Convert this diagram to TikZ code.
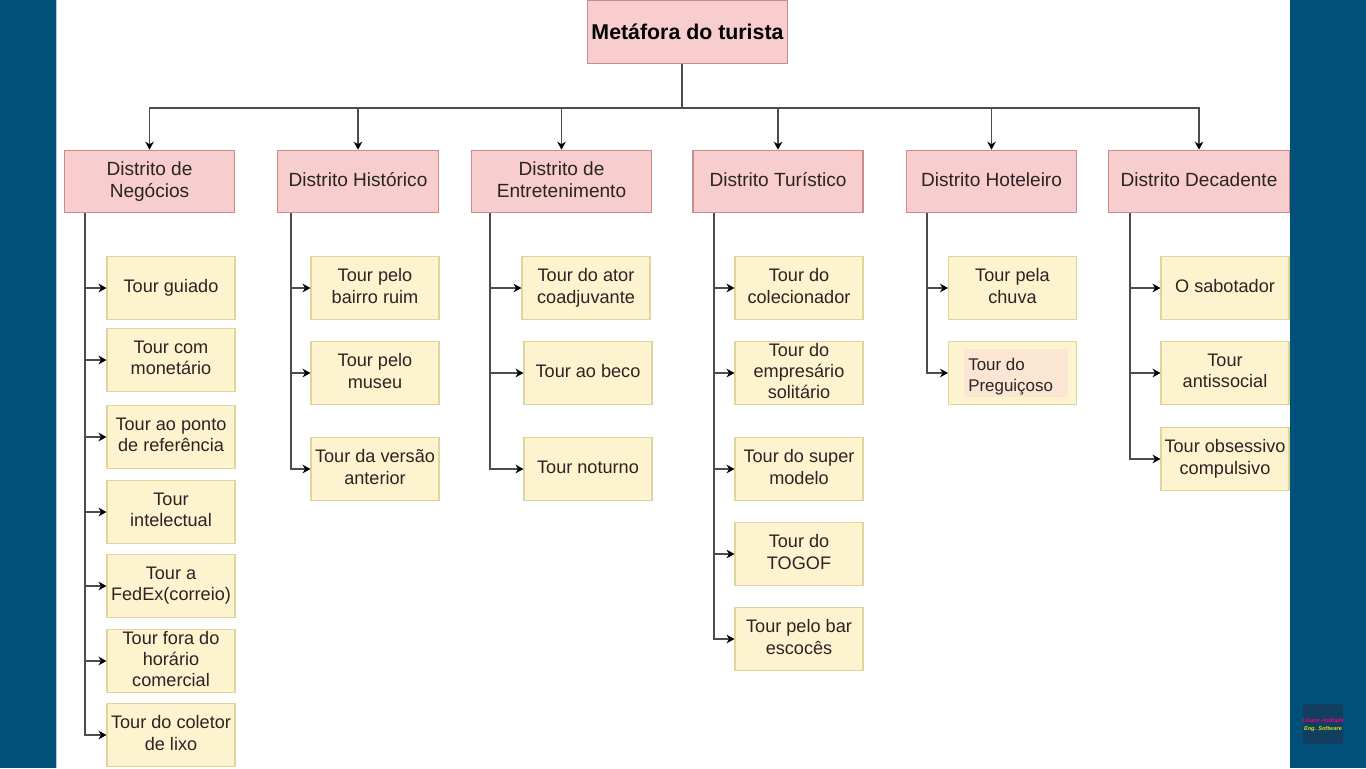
\documentclass[tikz,border=0pt]{standalone}
\usepackage{fontspec}
\setmainfont{Liberation Sans}
\usepackage{tikz}
\usetikzlibrary{arrows.meta}
\definecolor{bandblue}{HTML}{00507A}
\definecolor{rosefill}{HTML}{F7CDCE}
\definecolor{rosedraw}{HTML}{C98B8B}
\definecolor{creamfill}{HTML}{FEF3CF}
\definecolor{creamdraw}{HTML}{DDD59C}
\definecolor{patchfill}{HTML}{FBE5D3}
\definecolor{inktext}{HTML}{2A2422}
\definecolor{logoblue}{HTML}{123F60}
\tikzset{
  titlebox/.style={draw=rosedraw,fill=rosefill,line width=0.8pt,align=center,text=black,
    minimum width=150pt,minimum height=47.5pt,inner sep=1pt,font=\fontsize{16}{19}\selectfont\bfseries},
  distbox/.style={draw=rosedraw,fill=rosefill,line width=0.8pt,align=center,text=inktext,
    minimum height=47pt,inner sep=1pt,text depth=3pt,font=\fontsize{14.3}{17}\selectfont},
  leafbox/.style={draw=creamdraw,fill=creamfill,line width=0.8pt,align=center,text=inktext,
    minimum width=96pt,minimum height=47.5pt,inner sep=1pt,text depth=3pt,font=\fontsize{13.6}{15.9}\selectfont},
  link/.style={draw=black!70,line width=0.8pt}
}
\begin{document}
\begin{tikzpicture}[>={Stealth[length=6pt,width=6.5pt,color=black]}, x=0.75pt, y=-0.75pt]
    \useasboundingbox (0,0) rectangle (1366,768);
    \fill[bandblue] (0,0) rectangle (1366,768);
    \fill[white] (56,0) rectangle (1290,768);
    \draw[blue!25, line width=0.8pt] (56.5,0) -- (56.5,768);

    \node[titlebox] (title) at (687.5,32) {Metáfora do turista};

    \node[distbox, minimum width=128pt] (dist-1) at (149.5,181.5) {Distrito de\\Negócios};
    \node[distbox, minimum width=121pt] (dist-2) at (358,181.5) {Distrito Histórico};
    \node[distbox, minimum width=135.5pt] (dist-3) at (561.5,181.5) {Distrito de\\Entretenimento};
    \node[distbox, minimum width=127.5pt] (dist-4) at (778,181.5) {Distrito Turístico};
    \node[distbox, minimum width=128pt] (dist-5) at (991.5,181.5) {Distrito Hoteleiro};
    \node[distbox, minimum width=135.5pt] (dist-6) at (1199,181.5) {Distrito Decadente};

    \node[leafbox] (leaf-1-1) at (171,288) {Tour guiado};
    \node[leafbox] (leaf-1-2) at (171,360) {Tour com\\monetário};
    \node[leafbox] (leaf-1-3) at (171,437) {Tour ao ponto\\de referência};
    \node[leafbox] (leaf-1-4) at (171,512) {Tour\\intelectual};
    \node[leafbox] (leaf-1-5) at (171,586) {Tour a\\FedEx(correio)};
    \node[leafbox] (leaf-1-6) at (171,661) {Tour fora do\\horário\\comercial};
    \node[leafbox] (leaf-1-7) at (171,735) {Tour do coletor\\de lixo};

    \node[leafbox] (leaf-2-1) at (375,288) {Tour pelo\\bairro ruim};
    \node[leafbox] (leaf-2-2) at (375,373) {Tour pelo\\museu};
    \node[leafbox] (leaf-2-3) at (375,469) {Tour da versão\\anterior};

    \node[leafbox] (leaf-3-1) at (586,288) {Tour do ator\\coadjuvante};
    \node[leafbox] (leaf-3-2) at (588,373) {Tour ao beco};
    \node[leafbox] (leaf-3-3) at (588,469) {Tour noturno};

    \node[leafbox] (leaf-4-1) at (799,288) {Tour do\\colecionador};
    \node[leafbox] (leaf-4-2) at (799,373) {Tour do\\empresário\\solitário};
    \node[leafbox] (leaf-4-3) at (799,469) {Tour do super\\modelo};
    \node[leafbox] (leaf-4-4) at (799,554) {Tour do\\TOGOF};
    \node[leafbox] (leaf-4-5) at (799,639) {Tour pelo bar\\escocês};

    \node[leafbox] (leaf-5-1) at (1012.5,288) {Tour pela\\chuva};
    \node[leafbox] (leaf-5-2) at (1012.5,373) {};
    \node[fill=patchfill, inner sep=0pt, minimum width=78pt, minimum height=36pt] (patch) at (1015.5,373) {};
    \node[anchor=west, text=inktext, align=left, inner sep=0pt,
      font=\fontsize{12.7}{15.6}\selectfont] (patch-text) at (968,376.5) {Tour do\\Preguiçoso};

    \node[leafbox] (leaf-6-1) at (1225,288) {O sabotador};
    \node[leafbox] (leaf-6-2) at (1225,373) {Tour\\antissocial};
    \node[leafbox] (leaf-6-3) at (1225,459) {Tour obsessivo\\compulsivo};

    % where the lines leave the boxes
    \coordinate (bus) at (682,108);
    \coordinate (trunk-1) at (85,213);
    \coordinate (trunk-2) at (291,213);
    \coordinate (trunk-3) at (490,213);
    \coordinate (trunk-4) at (714,213);
    \coordinate (trunk-5) at (927,213);
    \coordinate (trunk-6) at (1130,213);

    \draw[link] (title.south -| bus) -- (bus);
    \draw[link, ->] (bus) -| (dist-1.north);
    \draw[link, ->] (bus) -| (dist-2.north);
    \draw[link, ->] (bus) -| (dist-3.north);
    \draw[link, ->] (bus) -| (dist-4.north);
    \draw[link, ->] (bus) -| (dist-5.north);
    \draw[link, ->] (bus) -| (dist-6.north);

    \draw[link, ->] (trunk-1) |- (leaf-1-1.west);
    \draw[link, ->] (trunk-1) |- (leaf-1-2.west);
    \draw[link, ->] (trunk-1) |- (leaf-1-3.west);
    \draw[link, ->] (trunk-1) |- (leaf-1-4.west);
    \draw[link, ->] (trunk-1) |- (leaf-1-5.west);
    \draw[link, ->] (trunk-1) |- (leaf-1-6.west);
    \draw[link, ->] (trunk-1) |- (leaf-1-7.west);

    \draw[link, ->] (trunk-2) |- (leaf-2-1.west);
    \draw[link, ->] (trunk-2) |- (leaf-2-2.west);
    \draw[link, ->] (trunk-2) |- (leaf-2-3.west);

    \draw[link, ->] (trunk-3) |- (leaf-3-1.west);
    \draw[link, ->] (trunk-3) |- (leaf-3-2.west);
    \draw[link, ->] (trunk-3) |- (leaf-3-3.west);

    \draw[link, ->] (trunk-4) |- (leaf-4-1.west);
    \draw[link, ->] (trunk-4) |- (leaf-4-2.west);
    \draw[link, ->] (trunk-4) |- (leaf-4-3.west);
    \draw[link, ->] (trunk-4) |- (leaf-4-4.west);
    \draw[link, ->] (trunk-4) |- (leaf-4-5.west);

    \draw[link, ->] (trunk-5) |- (leaf-5-1.west);
    \draw[link, ->] (trunk-5) |- (leaf-5-2.west);

    \draw[link, ->] (trunk-6) |- (leaf-6-1.west);
    \draw[link, ->] (trunk-6) |- (leaf-6-2.west);
    \draw[link, ->] (trunk-6) |- (leaf-6-3.west);

    % corner mark
    \node[fill=logoblue, minimum size=30pt, inner sep=0pt] (logo) at (1323,724) {};
    \node[text=magenta, font=\fontsize{4.2}{4}\selectfont\itshape\bfseries, inner sep=0pt] (logo-a) at (1323,720) {Liliane Andrade};
    \node[text=yellow!80!green, font=\fontsize{4.2}{4}\selectfont\itshape\bfseries, inner sep=0pt] (logo-b) at (1323,729) {Eng. Software};
\end{tikzpicture}
\end{document}
